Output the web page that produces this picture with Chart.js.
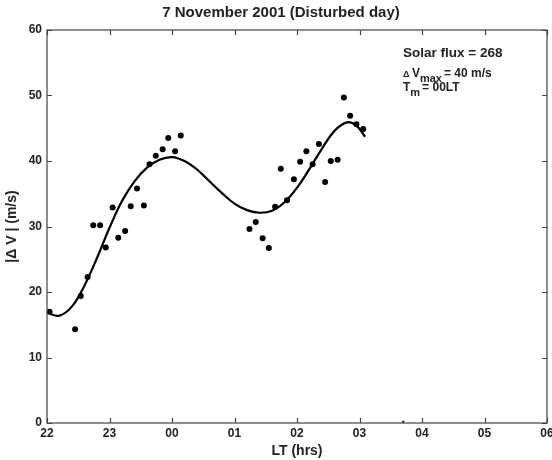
<!DOCTYPE html>
<html>
<head>
<meta charset="utf-8">
<script src="https://cdn.jsdelivr.net/npm/chart.js@4/dist/chart.umd.min.js"></script>
<style>
  body { margin: 0; background: #fff; }
  #wrap { width: 552px; height: 460px; }
</style>
</head>
<body>
<div id="wrap"><canvas id="chart" width="552" height="460"></canvas></div>
<script>
// observed points (LT hours, 24+ = after midnight)
const obsHours = [22.04, 22.45, 22.54, 22.65, 22.74, 22.85, 22.94, 23.05, 23.14, 23.25, 23.34, 23.44, 23.55,
  23.64, 23.74, 23.85, 23.94, 24.05, 24.14, 25.24, 25.34, 25.45, 25.55, 25.65, 25.74, 25.84, 25.95, 26.05,
  26.15, 26.25, 26.35, 26.45, 26.54, 26.65, 26.75, 26.85, 26.95, 27.06];
const obsValues = [17.0, 14.3, 19.4, 22.3, 30.2, 30.2, 26.8, 32.9, 28.3, 29.3, 33.1, 35.8, 33.2,
  39.5, 40.8, 41.8, 43.5, 41.5, 43.9, 29.6, 30.7, 28.2, 26.7, 33.0, 38.8, 34.0, 37.2, 39.9,
  41.5, 39.5, 42.6, 36.8, 40.0, 40.2, 49.7, 46.9, 45.6, 44.9];

// fitted curve
const fitHours = [22.0, 22.2, 22.4, 22.6, 22.8, 23.0, 23.2, 23.4, 23.6, 23.8, 24.0, 24.2, 24.4, 24.6,
  24.8, 25.0, 25.2, 25.4, 25.6, 25.8, 26.0, 26.2, 26.4, 26.6, 26.8, 26.95, 27.09];
const fitValues = [16.8, 16.4, 17.8, 21.0, 25.2, 29.8, 33.9, 36.9, 39.0, 40.2, 40.6, 40.0, 38.7, 36.9,
  35.1, 33.5, 32.5, 32.1, 32.4, 33.7, 35.9, 38.8, 41.9, 44.6, 45.9, 45.4, 43.7];

// small stray mark on the x axis
const strayHours = [27.7];
const strayValues = [0.2];

const xTicks = [22, 23, 24, 25, 26, 27, 28, 29, 30];
const yTicks = [0, 10, 20, 30, 40, 50, 60];

const title = '7 November 2001 (Disturbed day)';
const fluxText = 'Solar flux = 268';

const FONT = '"Liberation Sans", Arial, sans-serif';

function toXY(xs, ys) {
  return xs.map((x, i) => ({ x: x, y: ys[i] }));
}

// frame, inward ticks, title and annotation
const decorPlugin = {
  id: 'decor',
  afterDraw(chart) {
    const ctx = chart.ctx;
    const a = chart.chartArea;
    const xs = chart.scales.x;
    const ys = chart.scales.y;
    ctx.save();
    ctx.strokeStyle = '#444';
    ctx.lineWidth = 1.2;
    ctx.strokeRect(a.left, a.top, a.right - a.left, a.bottom - a.top);
    const t = 5;
    ctx.beginPath();
    xTicks.forEach(v => {
      const px = Math.round(xs.getPixelForValue(v)) + 0.5;
      ctx.moveTo(px, a.bottom); ctx.lineTo(px, a.bottom - t);
      ctx.moveTo(px, a.top); ctx.lineTo(px, a.top + t);
    });
    yTicks.forEach(v => {
      const py = Math.round(ys.getPixelForValue(v)) + 0.5;
      ctx.moveTo(a.left, py); ctx.lineTo(a.left + t, py);
      ctx.moveTo(a.right, py); ctx.lineTo(a.right - t, py);
    });
    ctx.stroke();

    ctx.fillStyle = '#222';
    ctx.font = 'bold 15px ' + FONT;
    ctx.textAlign = 'center';
    ctx.textBaseline = 'middle';
    ctx.fillText(title, 281, 13);

    ctx.textAlign = 'left';
    ctx.textBaseline = 'alphabetic';
    ctx.font = 'bold 13.5px ' + FONT;
    ctx.fillText(fluxText, 403, 57);

    // Δ V_max = 40 m/s
    let x = 403;
    ctx.font = 'bold 9px ' + FONT;
    ctx.fillText('\u0394', x, 77);
    x += ctx.measureText('\u0394 ').width;
    ctx.font = 'bold 12px ' + FONT;
    ctx.fillText('V', x, 77);
    x += ctx.measureText('V').width;
    ctx.font = 'bold 11px ' + FONT;
    ctx.fillText('max', x, 82);
    x += ctx.measureText('max').width + 2;
    ctx.font = 'bold 12px ' + FONT;
    ctx.fillText('= 40 m/s', x, 77);

    // T_m = 00LT
    x = 403;
    ctx.fillText('T', x, 91);
    x += ctx.measureText('T').width;
    ctx.font = 'bold 11px ' + FONT;
    ctx.fillText('m', x, 96);
    x += ctx.measureText('m').width + 2;
    ctx.font = 'bold 12px ' + FONT;
    ctx.fillText('= 00LT', x, 91);
    ctx.restore();
  }
};

new Chart(document.getElementById('chart'), {
  type: 'scatter',
  data: {
    datasets: [
      {
        label: 'fit',
        type: 'line',
        data: toXY(fitHours, fitValues),
        borderColor: '#000',
        borderWidth: 2.2,
        pointRadius: 0,
        tension: 0.4,
        fill: false
      },
      {
        label: 'observed',
        data: toXY(obsHours, obsValues),
        backgroundColor: '#000',
        borderColor: '#000',
        pointRadius: 3,
        pointBorderWidth: 0
      },
      {
        label: 'stray',
        data: toXY(strayHours, strayValues),
        backgroundColor: '#333',
        borderColor: '#333',
        pointRadius: 1.3,
        pointBorderWidth: 0
      }
    ]
  },
  options: {
    responsive: false,
    animation: false,
    layout: { padding: { top: 30, right: 5, left: 0, bottom: 0 } },
    plugins: {
      legend: { display: false },
      tooltip: { enabled: false }
    },
    scales: {
      x: {
        type: 'linear',
        min: 22, max: 30,
        afterBuildTicks: s => { s.ticks = xTicks.map(v => ({ value: v })); },
        afterFit: s => { s.height = 37; s.paddingRight = 0; s.paddingLeft = 0; },
        grid: { display: false, drawTicks: false },
        border: { display: false },
        ticks: {
          padding: 3,
          color: '#222',
          font: { family: FONT, size: 12, weight: 'bold' },
          maxRotation: 0,
          callback: v => String(v % 24).padStart(2, '0')
        },
        title: {
          display: true,
          text: 'LT (hrs)',
          color: '#222',
          padding: { top: 0, bottom: 0 },
          font: { family: FONT, size: 14, weight: 'bold' }
        }
      },
      y: {
        min: 0, max: 60,
        afterBuildTicks: s => { s.ticks = yTicks.map(v => ({ value: v })); },
        afterFit: s => { s.width = 47; },
        grid: { display: false, drawTicks: false },
        border: { display: false },
        ticks: {
          padding: 5,
          color: '#222',
          font: { family: FONT, size: 12, weight: 'bold' }
        },
        title: {
          display: true,
          text: '|\u0394 V | (m/s)',
          color: '#222',
          padding: { top: 4, bottom: 2 },
          font: { family: FONT, size: 14, weight: 'bold' }
        }
      }
    }
  },
  plugins: [decorPlugin]
});
</script>
</body>
</html>
